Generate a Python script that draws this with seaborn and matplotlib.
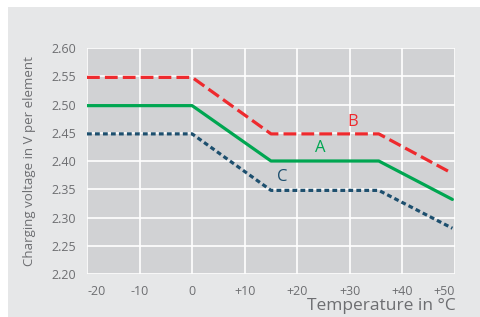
import matplotlib
matplotlib.use("Agg")
import matplotlib.pyplot as plt
import seaborn as sns
import pandas as pd
from matplotlib.patches import Rectangle

# data
temps = [-20, 0, 15, 35.5, 49.5]
volt_b = [2.548, 2.548, 2.448, 2.448, 2.378]
volt_a = [2.498, 2.498, 2.40, 2.40, 2.332]
volt_c = [2.448, 2.448, 2.348, 2.348, 2.281]
x_ticks = [-20, -10, 0, 10, 20, 30, 40, 50]
x_labels = ["-20", "-10", "0", "+10", "+20", "+30", "+40", "+50"]
y_ticks = [2.20, 2.25, 2.30, 2.35, 2.40, 2.45, 2.50, 2.55, 2.60]

df = pd.DataFrame({
    "temp": temps * 3,
    "volt": volt_b + volt_a + volt_c,
    "curve": ["B"] * 5 + ["A"] * 5 + ["C"] * 5,
})

sns.set_style("white", {"axes.facecolor": "#d1d2d4"})
plt.rcParams["font.family"] = ["Open Sans", "DejaVu Sans"]

text_col = "#6d6e71"
colors = {"B": "#ee2a2e", "A": "#00a651", "C": "#1d4f6e"}
dashes = {"B": (4, 1.6), "A": "", "C": (1.5, 1.0)}

fig = plt.figure(figsize=(4.81, 3.17), dpi=100)
fig.patch.set_facecolor("white")
fig.patches.append(Rectangle((8 / 481, 0), 1, 1 - 7 / 317, transform=fig.transFigure,
                             facecolor="#e6e7e8", edgecolor="none", zorder=-10))
ax = fig.add_axes([87 / 481, 1 - 274 / 317, 368 / 481, 226 / 317])

sns.lineplot(data=df, x="temp", y="volt", hue="curve", style="curve",
             palette=colors, dashes=dashes, linewidth=2.3, legend=False, ax=ax,
             zorder=3)

ax.set_xlim(-20, 50)
ax.set_ylim(2.20, 2.60)
ax.set_xticks(x_ticks)
ax.set_xticklabels(x_labels)
ax.set_yticks(y_ticks)
ax.set_yticklabels([f"{v:.2f}" for v in y_ticks])
ax.grid(True, color="white", linewidth=1.2)
ax.set_axisbelow(True)
for s in ax.spines.values():
    s.set_visible(False)
ax.tick_params(axis="both", colors=text_col, labelsize=9, length=0, pad=8)
xt = ax.get_xticklabels()
xt[0].set_ha("left")
xt[-1].set_ha("right")

ax.set_xlabel("")
ax.set_ylabel("Charging voltage in V per element", color=text_col, fontsize=9.5, labelpad=11)
fig.text(456 / 481, 1 - 306 / 317, "Temperature in °C", ha="right", va="center",
         color=text_col, fontsize=12.5)

ax.text(24.3, 2.423, "A", color=colors["A"], fontsize=12, ha="center", va="center")
ax.text(30.6, 2.469, "B", color=colors["B"], fontsize=12, ha="center", va="center")
ax.text(17.1, 2.372, "C", color=colors["C"], fontsize=12, ha="center", va="center")

fig.savefig("out.png", dpi=100)
